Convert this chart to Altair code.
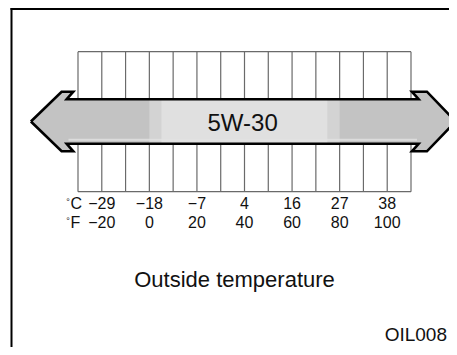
import altair as alt
import pandas as pd

# ---- chart content -------------------------------------------------------
celsius_labels = [-29, -18, -7, 4, 16, 27, 38]
fahrenheit_labels = [-20, 0, 20, 40, 60, 80, 100]
grid_fahrenheit = [-30, -20, -10, 0, 10, 20, 30, 40, 50, 60, 70, 80, 90, 100, 110]
oil_grade = "5W-30"
axis_title = "Outside temperature"
figure_code = "OIL008"

# ---- layout (pixels of the drawing / °F along x) ---------------------------
W, H = 441, 339
PX_PER_F = 333 / 140
F_MIN = -30 - 70 / PX_PER_F
F_MAX = F_MIN + W / PX_PER_F

xs = alt.Scale(domain=[F_MIN, F_MAX], nice=False, zero=False)
ys = alt.Scale(domain=[0, H], reverse=True, nice=False, zero=False)

GRID_TOP, GRID_BOT = 43.7, 183.7
BAND_TOP, BAND_BOT = 91.2, 135.8
BARB_TOP, BARB_BOT = 83.7, 143.3
MID = 113.5

arrow_pts = [
    (-49.8, MID), (-36.9, BARB_TOP), (-32.0, BARB_TOP), (-34.75, BAND_TOP),
    (113.2, BAND_TOP), (110.4, BARB_TOP), (116.7, BARB_TOP), (128.7, MID),
    (116.7, BARB_BOT), (110.4, BARB_BOT), (113.2, BAND_BOT), (-34.75, BAND_BOT),
    (-32.0, BARB_BOT), (-36.9, BARB_BOT), (-49.8, MID),
]
arrow_df = pd.DataFrame([{"i": i, "x": x, "y": y} for i, (x, y) in enumerate(arrow_pts)])

def X(field="x", **kw):
    return alt.X(field, type="quantitative", scale=xs, axis=None, **kw)

def Y(field="y", **kw):
    return alt.Y(field, type="quantitative", scale=ys, axis=None, **kw)

# grid
grid_df = pd.DataFrame(
    [{"x": f, "y": GRID_TOP, "y2": BAND_TOP} for f in grid_fahrenheit]
    + [{"x": f, "y": BAND_BOT, "y2": GRID_BOT} for f in grid_fahrenheit]
)
grid = alt.Chart(grid_df).mark_rule(color="#6a6a6a", strokeWidth=1.2).encode(
    x=X(), y=Y(), y2="y2"
)
hgrid_df = pd.DataFrame([
    {"x": grid_fahrenheit[0], "x2": grid_fahrenheit[-1], "y": GRID_TOP},
    {"x": grid_fahrenheit[0], "x2": grid_fahrenheit[-1], "y": GRID_BOT},
])
hgrid = alt.Chart(hgrid_df).mark_rule(color="#6a6a6a", strokeWidth=1.2).encode(
    x=X(), x2="x2", y=Y()
)

# arrow fill
arrow_fill = alt.Chart(arrow_df).mark_line(
    fill="#c3c3c3", strokeOpacity=0, interpolate="linear"
).encode(x=X(), y=Y(), order="i:Q")

shade_df = pd.DataFrame([
    {"x": 0, "x2": 5, "c": "#d3d3d3"},
    {"x": 5, "x2": 75, "c": "#e0e0e0"},
    {"x": 75, "x2": 80, "c": "#d3d3d3"},
])
shade = alt.Chart(shade_df).mark_rect().encode(
    x=X(), x2="x2",
    y=alt.Y(datum=BAND_TOP, scale=ys, axis=None), y2=alt.Y2(datum=BAND_BOT),
    color=alt.Color("c:N", scale=None),
)
glint_df = pd.DataFrame([{"x": -34.0, "x2": 112.5, "y": BAND_BOT - 4}])
glint = alt.Chart(glint_df).mark_rule(color="#e2e2e2", strokeWidth=2, opacity=0.8).encode(
    x=X(), x2="x2", y=Y()
)

arrow_line = alt.Chart(arrow_df).mark_line(
    color="black", strokeWidth=2.6, strokeJoin="miter", interpolate="linear"
).encode(x=X(), y=Y(), order="i:Q")

FONT = "Liberation Sans"

grade_text = alt.Chart(pd.DataFrame([{"x": 39.2, "y": 123, "t": oil_grade}])).mark_text(
    font=FONT, fontSize=24, align="center", baseline="alphabetic", color="#111"
).encode(x=X(), y=Y(), text="t:N")

def fmt(v):
    return str(v).replace("-", "\u2212")

c_df = pd.DataFrame({"x": fahrenheit_labels, "t": [fmt(v) for v in celsius_labels], "y": 201})
f_df = pd.DataFrame({"x": fahrenheit_labels, "t": [fmt(v) for v in fahrenheit_labels], "y": 219.5})
tick_c = alt.Chart(c_df).mark_text(font=FONT, fontSize=16, align="center", baseline="alphabetic", color="#111").encode(
    x=X(), y=Y(), text="t:N")
tick_f = alt.Chart(f_df).mark_text(font=FONT, fontSize=16, align="center", baseline="alphabetic", color="#111").encode(
    x=X(), y=Y(), text="t:N")

units_df = pd.DataFrame([
    {"x": -33.2, "y": 201, "t": "C"},
    {"x": -33.2, "y": 219.5, "t": "F"},
])
units = alt.Chart(units_df).mark_text(font=FONT, fontSize=16, align="left", baseline="alphabetic", color="#111").encode(
    x=X(), y=Y(), text="t:N")
deg_df = pd.DataFrame([
    {"x": -34.9, "y": 197, "t": "°"},
    {"x": -34.9, "y": 215.5, "t": "°"},
])
deg = alt.Chart(deg_df).mark_text(font=FONT, fontSize=9, align="left", baseline="alphabetic", color="#111").encode(
    x=X(), y=Y(), text="t:N")

title_text = alt.Chart(pd.DataFrame([{"x": 35.8, "y": 279, "t": axis_title}])).mark_text(
    font=FONT, fontSize=22, align="center", baseline="alphabetic", color="#111"
).encode(x=X(), y=Y(), text="t:N")

# figure code: right-aligned so it stays fully inside the drawing
code_text = alt.Chart(pd.DataFrame([{"x": F_MAX - 2 / PX_PER_F, "y": 333, "t": figure_code}])).mark_text(
    font=FONT, fontSize=19, align="right", baseline="alphabetic", color="#111"
).encode(x=X(), y=Y(), text="t:N")

frame_v = alt.Chart(pd.DataFrame([{"a": 0}])).mark_rule(color="black", strokeWidth=2).encode(
    x=alt.value(3.5), y=alt.value(0), y2=alt.value(H))
frame_h = alt.Chart(pd.DataFrame([{"a": 0}])).mark_rule(color="black", strokeWidth=2).encode(
    x=alt.value(2.5), x2=alt.value(W), y=alt.value(1))

chart = alt.layer(
    grid, hgrid, arrow_fill, shade, glint, arrow_line, grade_text,
    tick_c, tick_f, units, deg, title_text, code_text, frame_v, frame_h,
).properties(
    width=W, height=H, padding=0, background="white",
    autosize=alt.AutoSizeParams(type="none"),
).configure_view(stroke=None)

chart.save("out.html", embed_options={"renderer": "svg", "actions": False})
